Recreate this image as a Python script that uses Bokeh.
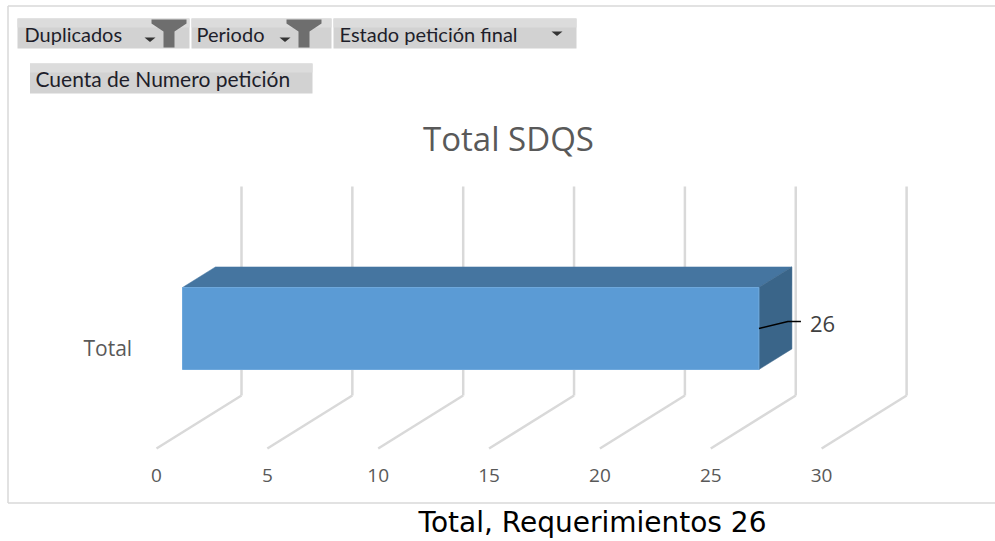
from bokeh.plotting import figure
from bokeh.models import Range1d
from bokeh.core.properties import value
from bokeh.embed import file_html
from bokeh.resources import INLINE

# ---------------- data ----------------
categories = ["Total"]
counts = [26]
tick_values = [0, 5, 10, 15, 20, 25, 30]
tick_labels = ["0", "5", "10", "15", "20", "25", "30"]
chart_title = "Total SDQS"
filter_buttons = ["Duplicados", "Periodo", "Estado petición final"]
value_button = "Cuenta de Numero petición"
caption = "Total, Requerimientos 26"

# ---------------- layout / style constants ----------------
W, H = 995, 541
PX_PER_UNIT = 22.17          # horizontal scale of the value axis
X0_SCREEN = 156              # screen x of value 0 on the front floor edge
DDX = 85 / PX_PER_UNIT       # depth shift (value units) front floor -> back wall
DDY = -53                    # depth shift (px) front floor -> back wall
FLOOR_FRONT_Y = 448
WALL_TOP_Y = 186
BAR_F, BAR_B = 0.306, 0.694  # depth of bar front / back faces
BAR_TOP, BAR_BOTTOM = 287, 369
GRID = "#d9d9d9"
TXT = "#595959"
FONT = value("Open Sans")
BTN_FONT = value("Lato")

x_start = (0 - X0_SCREEN) / PX_PER_UNIT
x_end = (W - X0_SCREEN) / PX_PER_UNIT

p = figure(width=W, height=H, x_range=Range1d(x_start, x_end),
           y_range=Range1d(H, 0), output_backend="svg",
           toolbar_location=None, min_border=0,
           x_axis_location=None, y_axis_location=None)
p.grid.visible = False
p.outline_line_color = None
p.background_fill_color = "white"
p.border_fill_color = "white"
p.extra_x_ranges = {"px": Range1d(0, W)}

# ---------------- chart border ----------------
p.multi_line(xs=[[7.5, 7.5], [7.5, 995], [7.5, 995]],
             ys=[[5.5, 502.5], [502.5, 502.5], [5.5, 5.5]],
             line_color="#d9d9d9", line_width=1.5, x_range_name="px")

# ---------------- filter buttons ----------------
btn_left = [17, 191, 333]
btn_right = [189, 331, 576]
p.quad(left=btn_left, right=btn_right, top=[18] * 3, bottom=[48] * 3,
       fill_color="#d2d2d2", line_color=None, x_range_name="px")
p.quad(left=btn_left, right=btn_right, top=[18] * 3, bottom=[27] * 3,
       fill_color="#dcdcdc", line_color=None, x_range_name="px")
p.quad(left=[29.5], right=[312], top=[63], bottom=[93],
       fill_color="#d2d2d2", line_color=None, x_range_name="px")
p.quad(left=[29.5], right=[312], top=[63], bottom=[72],
       fill_color="#dcdcdc", line_color=None, x_range_name="px")
p.text(x=[24, 196, 339], y=[33, 33, 33], text=filter_buttons,
       text_font=BTN_FONT, text_font_size="20px", text_color="#1e1e2a",
       text_align="left", text_baseline="middle", x_range_name="px")
p.text(x=[35], y=[78], text=[value_button],
       text_font=BTN_FONT, text_font_size="21px", text_color="#1e1e2a",
       text_align="left", text_baseline="middle", x_range_name="px")

# funnel icons and drop arrows
funnel = [(0, 0), (35, 0), (35, 4), (23, 12), (23, 28), (12, 28), (12, 12), (0, 4)]
fx0 = [151, 286]
p.patches(xs=[[o + a for a, b in funnel] for o in fx0],
          ys=[[19 + b for a, b in funnel] for o in fx0],
          fill_color="#6e6e6e", line_color=None, x_range_name="px")
arrows_x = [144, 279, 551]
arrows_y = [37, 37, 31]
p.patches(xs=[[a, a + 11, a + 5.5] for a in arrows_x],
          ys=[[b, b, b + 4.5] for b in arrows_y],
          fill_color="#333333", line_color=None, x_range_name="px")

# ---------------- title ----------------
p.text(x=[508], y=[138], text=[chart_title], text_font=FONT,
       text_font_size="33px", text_color=TXT, text_align="center",
       text_baseline="middle", x_range_name="px")

# ---------------- 3D gridlines ----------------
floor_back_y = FLOOR_FRONT_Y + DDY
p.multi_line(xs=[[t + DDX, t + DDX] for t in tick_values],
             ys=[[floor_back_y, WALL_TOP_Y] for t in tick_values],
             line_color=GRID, line_width=2.5)
p.multi_line(xs=[[t, t + DDX] for t in tick_values],
             ys=[[FLOOR_FRONT_Y, floor_back_y] for t in tick_values],
             line_color=GRID, line_width=2.5)

# ---------------- 3D bar ----------------
fo = BAR_F * DDX
bo = BAR_B * DDX
dy = (BAR_B - BAR_F) * DDY
for v in counts:
    x0f, x1f = 0 + fo, v + fo
    x0b, x1b = 0 + bo, v + bo
    # top face
    p.patch(x=[x0f, x1f, x1b, x0b], y=[BAR_TOP, BAR_TOP, BAR_TOP + dy, BAR_TOP + dy],
            fill_color="#4575a0", line_color="#4575a0", line_width=0.5)
    # side face
    p.patch(x=[x1f, x1b, x1b, x1f], y=[BAR_TOP, BAR_TOP + dy, BAR_BOTTOM + dy, BAR_BOTTOM],
            fill_color="#3a6589", line_color="#3a6589", line_width=0.5)
    # front face
    p.quad(left=[x0f], right=[x1f], top=[BAR_TOP], bottom=[BAR_BOTTOM],
           fill_color="#5b9bd5", line_color="#6ea8dc", line_width=1)
    # data label with leader line
    p.line(x=[x1f, x1f + 29 / PX_PER_UNIT, x1f + 42 / PX_PER_UNIT],
           y=[328, 321, 321], line_color="black", line_width=1.5)
    p.text(x=[x1f + 51 / PX_PER_UNIT], y=[323], text=[str(v)], text_font=FONT,
           text_font_size="22px", text_color="#404040", text_align="left",
           text_baseline="middle")

# category label
p.text(x=[83], y=[347], text=categories, text_font=FONT, text_font_size="21px",
       text_color=TXT, text_align="left", text_baseline="middle", x_range_name="px")

# value axis tick labels (front floor edge)
p.text(x=tick_values, y=[475] * len(tick_values), text=tick_labels, text_font=FONT,
       text_font_size="19px", text_color=TXT, text_align="center",
       text_baseline="middle")

# ---------------- caption ----------------
p.text(x=[592], y=[522], text=[caption],
       text_font=value("DejaVu Sans"),
       text_font_size="28px", text_color="black", text_align="center",
       text_baseline="middle", x_range_name="px")

open("out.html", "w").write(file_html(p, INLINE))
